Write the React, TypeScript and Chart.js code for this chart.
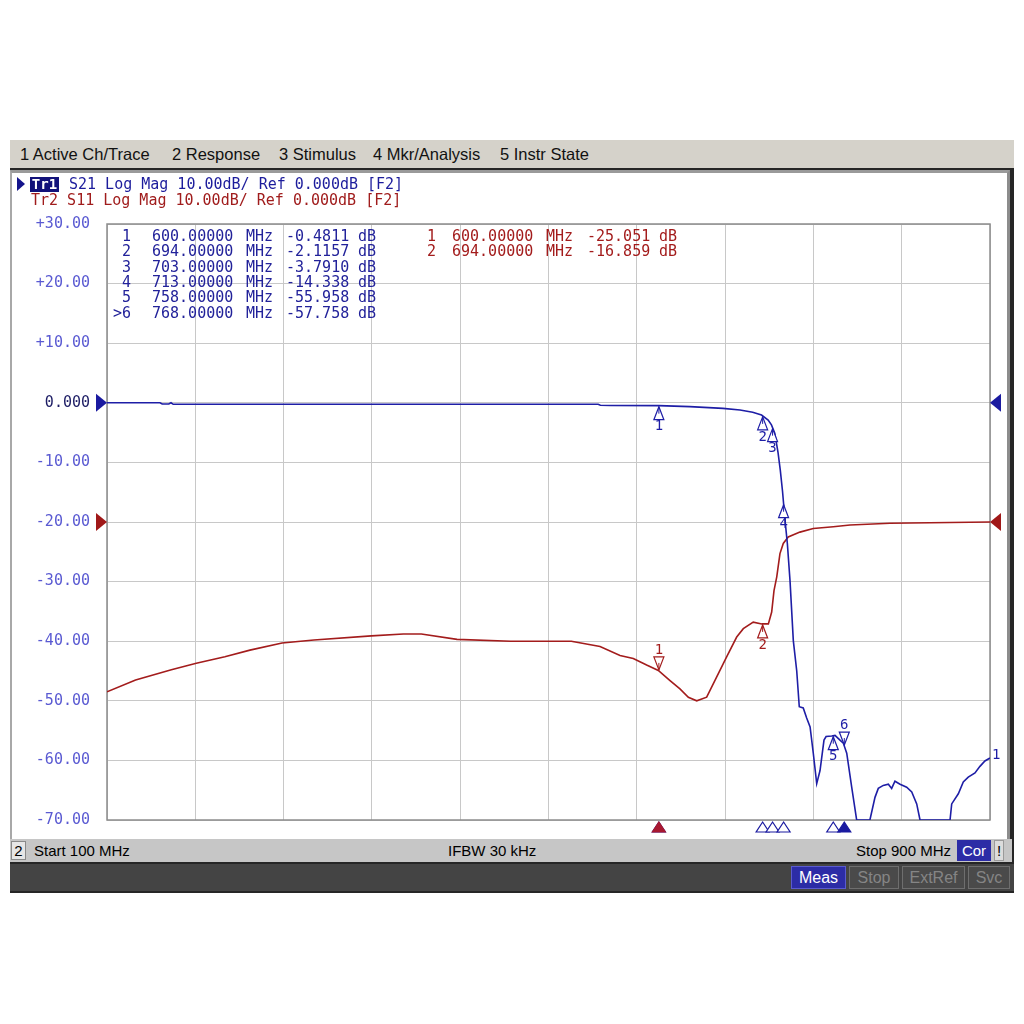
import React, { useEffect, useRef } from "react";
import { Chart, registerables } from "chart.js";
Chart.register(...registerables);

// ---- axis setup ----
const START_MHZ = 100;
const STOP_MHZ = 900;
const FREQ_STEP = 80;
const DB_MAX = 30;
const DB_MIN = -70;
const DB_STEP = 10;

// ---- Tr1 : S21 (blue) ----
const s21Freq = [100, 148, 150, 156, 158, 160, 545, 547, 556, 600, 628, 658, 673.5, 685, 693, 699, 702, 705, 708, 710, 712, 714.3, 716.4, 718.8, 721.8, 724.9, 727.2, 730.8, 733.9, 737, 739.9, 743, 746, 749.6, 751.5, 756.6, 759.6, 764.1, 767.1, 770.2, 774.7, 779.2, 791.2, 795.8, 798.8, 803.3, 807.9, 810.9, 813.9, 818.5, 824.5, 829.1, 833.6, 836.6, 863.8, 865.3, 867.4, 871.3, 875.8, 880.3, 886.4, 890.9, 895.4, 900];
const s21Db = [0, 0, -0.2, -0.2, 0, -0.25, -0.25, -0.42, -0.45, -0.48, -0.65, -0.93, -1.2, -1.6, -2.05, -2.9, -3.7, -5.1, -8.4, -11.3, -14.8, -19.7, -23.6, -29.8, -39.9, -45, -51, -51.2, -52.9, -54.4, -58.8, -63.9, -61.7, -56.6, -56, -55.9, -55.8, -56.6, -57.1, -58.8, -64.5, -70, -70, -66.2, -64.7, -64.2, -64, -64.7, -63.5, -64, -64.5, -65.3, -67.3, -70, -70, -67.3, -66.7, -65.6, -63.6, -62.8, -62.1, -61, -60.1, -59.6];

// ---- Tr2 : S11 (red) ----
const s11Freq = [100, 125.9, 158.3, 180.9, 206.8, 229.5, 258.6, 287.5, 339.5, 368.5, 384.8, 417.1, 465.7, 520.7, 546.7, 564.8, 576.8, 588.9, 599.5, 610.1, 619.1, 626.7, 634.3, 643.3, 652.4, 661.5, 670.5, 676.5, 685.5, 693.2, 699.2, 702.2, 704.3, 706.8, 709.7, 712.7, 717.2, 727.8, 739.9, 758, 773.2, 809.4, 900];
const s11Db = [-48.5, -46.5, -44.8, -43.7, -42.6, -41.5, -40.3, -39.8, -39.1, -38.8, -38.8, -39.7, -40, -40, -40.9, -42.4, -42.9, -44, -44.9, -46.6, -48, -49.4, -50, -49.4, -46, -42.6, -39.3, -37.9, -36.8, -37.1, -37.1, -35.1, -31.5, -29.2, -25.3, -23.6, -22.5, -21.7, -21.1, -20.8, -20.5, -20.2, -20.0];

// ---- markers ----
const s21MarkerNames = ["1", "2", "3", "4", "5", ">6"];
const s21MarkerFreq = [600, 694, 703, 713, 758, 768];
const s21MarkerDb = [-0.4811, -2.1157, -3.791, -14.338, -55.958, -57.758];
const s21MarkerAbove = [false, false, false, false, false, true];
const s21ActiveMarker = 5;

const s11MarkerNames = ["1", "2"];
const s11MarkerFreq = [600, 694];
const s11MarkerDb = [-25.051, -16.859];
const s11MarkerAbove = [true, false];
const s11ActiveMarker = 0;

// reference level arrows (Tr1, Tr2)
const refLevels = [0, -20];

const BLUE = "#1e1ea6";
const RED = "#a31c1c";
const MONO = '"DejaVu Sans Mono", monospace';

function interp(fs: number[], vs: number[], f: number) {
  for (let i = 0; i < fs.length - 1; i++) {
    if (f >= fs[i] && f <= fs[i + 1]) {
      const t = (f - fs[i]) / (fs[i + 1] - fs[i]);
      return vs[i] + t * (vs[i + 1] - vs[i]);
    }
  }
  return vs[vs.length - 1];
}

function fmtTick(v: number) {
  if (v === 0) return "0.000";
  return (v > 0 ? "+" : "") + v.toFixed(2);
}
function fmtDb(v: number) {
  return Math.abs(v) < 10 ? v.toFixed(4) : v.toFixed(3);
}

function tri(ctx: CanvasRenderingContext2D, x: number, yApex: number, dir: number, hw: number, h: number, color: string, filled: boolean) {
  ctx.beginPath();
  ctx.moveTo(x, yApex);
  ctx.lineTo(x - hw, yApex + dir * h);
  ctx.lineTo(x + hw, yApex + dir * h);
  ctx.closePath();
  ctx.fillStyle = filled ? color : "#ffffff";
  ctx.fill();
  ctx.strokeStyle = color;
  ctx.lineWidth = 1.2;
  ctx.stroke();
}

function sideTri(ctx: CanvasRenderingContext2D, xApex: number, y: number, dir: number, color: string) {
  ctx.beginPath();
  ctx.moveTo(xApex, y);
  ctx.lineTo(xApex + dir * 11, y - 9);
  ctx.lineTo(xApex + dir * 11, y + 9);
  ctx.closePath();
  ctx.fillStyle = color;
  ctx.fill();
}

const overlayPlugin = {
  id: "vnaOverlay",
  beforeDatasetsDraw(chart: any) {
    const { ctx, chartArea: a } = chart;
    ctx.save();
    ctx.strokeStyle = "#8c8c8c";
    ctx.lineWidth = 1.5;
    ctx.strokeRect(a.left, a.top, a.right - a.left, a.bottom - a.top);
    ctx.restore();
  },
  afterDraw(chart: any) {
    const { ctx, chartArea: a } = chart;
    const xs = chart.scales.x;
    const ys = chart.scales.y;
    ctx.save();

    // marker readouts
    ctx.font = "15px " + MONO;
    ctx.textBaseline = "middle";
    const row0 = 237;
    const rowH = 15.4;
    s21MarkerNames.forEach((n, i) => {
      const y = row0 + i * rowH;
      ctx.fillStyle = "#22229a";
      ctx.textAlign = "right";
      ctx.fillText(n, 131, y);
      ctx.textAlign = "left";
      ctx.fillText(s21MarkerFreq[i].toFixed(5), 152, y);
      ctx.fillText("MHz", 246, y);
      ctx.fillText(fmtDb(s21MarkerDb[i]), 286, y);
      ctx.fillText("dB", 358, y);
    });
    s11MarkerNames.forEach((n, i) => {
      const y = row0 + i * rowH;
      ctx.fillStyle = RED;
      ctx.textAlign = "right";
      ctx.fillText(n, 436, y);
      ctx.textAlign = "left";
      ctx.fillText(s11MarkerFreq[i].toFixed(5), 452, y);
      ctx.fillText("MHz", 546, y);
      ctx.fillText(fmtDb(s11MarkerDb[i]), 587, y);
      ctx.fillText("dB", 659, y);
    });

    // reference level arrows
    sideTri(ctx, a.left, ys.getPixelForValue(refLevels[0]), -1, "#1a1aa0");
    sideTri(ctx, a.left, ys.getPixelForValue(refLevels[1]), -1, "#a01818");
    sideTri(ctx, a.right, ys.getPixelForValue(refLevels[0]), 1, "#1a1aa0");
    sideTri(ctx, a.right, ys.getPixelForValue(refLevels[1]), 1, "#a01818");

    // markers on traces
    const drawTraceMarkers = (names: string[], freqs: number[], above: boolean[], fs: number[], vs: number[], color: string) => {
      ctx.font = "14px " + MONO;
      ctx.textAlign = "center";
      names.forEach((_, i) => {
        const x = xs.getPixelForValue(freqs[i]);
        const y = ys.getPixelForValue(interp(fs, vs, freqs[i]));
        const dir = above[i] ? -1 : 1;
        tri(ctx, x, y + dir * 1, dir, 5, 13, color, false);
        ctx.beginPath();
        ctx.moveTo(x, y + dir * 1);
        ctx.lineTo(x, y + dir * 8);
        ctx.strokeStyle = color;
        ctx.lineWidth = 1;
        ctx.stroke();
        ctx.fillStyle = color;
        ctx.fillText(String(i + 1), x, y + dir * 21);
      });
    };
    drawTraceMarkers(s11MarkerNames, s11MarkerFreq, s11MarkerAbove, s11Freq, s11Db, RED);
    drawTraceMarkers(s21MarkerNames, s21MarkerFreq, s21MarkerAbove, s21Freq, s21Db, BLUE);

    // markers along the frequency axis
    s21MarkerFreq.forEach((f, i) => {
      tri(ctx, xs.getPixelForValue(f), a.bottom + 2, 1, 6.5, 10, "#1a1aa0", i === s21ActiveMarker);
    });
    tri(ctx, xs.getPixelForValue(s11MarkerFreq[s11ActiveMarker]), a.bottom + 2, 1, 6.5, 10, "#a81830", true);

    // trace number at end
    ctx.font = "14px " + MONO;
    ctx.fillStyle = BLUE;
    ctx.textAlign = "left";
    ctx.fillText("1", a.right + 2, ys.getPixelForValue(s21Db[s21Db.length - 1]) - 3);

    ctx.restore();
  },
};

function VnaChart() {
  const ref = useRef<HTMLCanvasElement | null>(null);
  useEffect(() => {
    if (!ref.current) return;
    const chart = new Chart(ref.current, {
      type: "line",
      data: {
        datasets: [
          {
            label: "Tr1 S21",
            data: s21Freq.map((f, i) => ({ x: f, y: s21Db[i] })),
            borderColor: BLUE,
            borderWidth: 1.6,
            pointRadius: 0,
            tension: 0,
          },
          {
            label: "Tr2 S11",
            data: s11Freq.map((f, i) => ({ x: f, y: s11Db[i] })),
            borderColor: RED,
            borderWidth: 1.6,
            pointRadius: 0,
            tension: 0,
          },
        ],
      },
      options: {
        responsive: false,
        maintainAspectRatio: false,
        animation: false,
        devicePixelRatio: 1,
        layout: { padding: { left: 0, top: 224, right: 34, bottom: 204 } },
        plugins: { legend: { display: false }, tooltip: { enabled: false } },
        scales: {
          x: {
            type: "linear",
            min: START_MHZ,
            max: STOP_MHZ,
            ticks: { display: false, stepSize: FREQ_STEP },
            grid: { color: "#c8c8c8", drawTicks: false, lineWidth: 1 },
            border: { display: false },
            afterFit: (s: any) => {
              s.height = 0;
            },
          },
          y: {
            min: DB_MIN,
            max: DB_MAX,
            ticks: {
              stepSize: DB_STEP,
              padding: 17,
              font: { family: "DejaVu Sans Mono", size: 15 },
              color: (c: any) => (c.tick && c.tick.value === 0 ? "#1c1c64" : "#5a5ad2"),
              callback: (v: any) => fmtTick(Number(v)),
            },
            grid: { color: "#c8c8c8", drawTicks: false, lineWidth: 1 },
            border: { display: false },
            afterFit: (s: any) => {
              s.width = 107;
            },
          },
        },
      },
      plugins: [overlayPlugin],
    } as any);
    return () => chart.destroy();
  }, []);
  return (
    <canvas
      ref={ref}
      width={1024}
      height={1024}
      style={{ position: "absolute", left: 0, top: 0, width: 1024, height: 1024, zIndex: 5 }}
    />
  );
}

const abs = (s: React.CSSProperties): React.CSSProperties => ({ position: "absolute", ...s });

export default function App() {
  const ui = '"Liberation Sans", Arial, sans-serif';
  const menuItems: [string, number][] = [
    ["1 Active Ch/Trace", 20],
    ["2 Response", 172],
    ["3 Stimulus", 279],
    ["4 Mkr/Analysis", 373],
    ["5 Instr State", 500],
  ];
  const btn = (label: string, left: number, width: number, active: boolean) => (
    <div
      key={label}
      style={abs({
        left,
        top: 866,
        width,
        height: 23,
        boxSizing: "border-box",
        background: active ? "#2c2ca6" : "#4a4a4a",
        border: active ? "1px solid #5a5ad0" : "1px solid #6e6e6e",
        color: active ? "#ffffff" : "#858585",
        font: "16px " + ui,
        lineHeight: "21px",
        textAlign: "center",
      })}
    >
      {label}
    </div>
  );
  return (
    <div style={{ position: "fixed", left: 0, top: 0, width: 1024, height: 1024, background: "#ffffff", overflow: "hidden" }}>
      {/* screen frame */}
      <div style={abs({ left: 10, top: 140, width: 1004, height: 753, background: "#262626" })} />
      {/* menu bar */}
      <div style={abs({ left: 10, top: 140, width: 1004, height: 28, background: "#d5d2ca" })}>
        {menuItems.map(([t, x]) => (
          <span key={t} style={abs({ left: x - 10, top: 5, font: "16.5px " + ui, color: "#111", whiteSpace: "nowrap" })}>
            {t}
          </span>
        ))}
      </div>
      {/* white panel */}
      <div
        style={abs({
          left: 10,
          top: 170,
          width: 1000,
          height: 669,
          boxSizing: "border-box",
          background: "#ffffff",
          borderLeft: "2px solid #a8a8a8",
          borderTop: "3px solid #9a9a9a",
          borderRight: "3px solid #8c8c8c",
        })}
      />
      {/* trace headers */}
      <div style={abs({ left: 17, top: 177, width: 0, height: 0, borderLeft: "8px solid #14148c", borderTop: "7px solid transparent", borderBottom: "7px solid transparent", zIndex: 6 })} />
      <div style={abs({ left: 30, top: 177, width: 29, height: 15, background: "#12127a", color: "#fff", font: "bold 14px " + MONO, lineHeight: "15px", textAlign: "center", zIndex: 6 })}>
        Tr1
      </div>
      <div style={abs({ left: 69, top: 176, font: "15px " + MONO, lineHeight: "16px", color: "#1c1c9c", whiteSpace: "pre", zIndex: 6 })}>
        S21 Log Mag 10.00dB/ Ref 0.000dB [F2]
      </div>
      <div style={abs({ left: 31, top: 192, font: "15px " + MONO, lineHeight: "16px", color: "#a01c1c", whiteSpace: "pre", zIndex: 6 })}>
        Tr2 S11 Log Mag 10.00dB/ Ref 0.000dB [F2]
      </div>
      {/* status bar */}
      <div style={abs({ left: 10, top: 839, width: 1002, height: 23, background: "#c6c6c6", font: "15px " + ui, color: "#000" })}>
        <div style={abs({ left: 1, top: 2, width: 15, height: 19, boxSizing: "border-box", background: "#e6e6e6", border: "1px solid #8a8a8a", textAlign: "center", lineHeight: "17px" })}>2</div>
        <span style={abs({ left: 24, top: 3, whiteSpace: "nowrap" })}>Start 100 MHz</span>
        <span style={abs({ left: 438, top: 3, whiteSpace: "nowrap" })}>IFBW 30 kHz</span>
        <span style={abs({ left: 846, top: 3, whiteSpace: "nowrap" })}>Stop 900 MHz</span>
        <div style={abs({ left: 947, top: 1, width: 34, height: 21, background: "#2c2ca6", color: "#fff", textAlign: "center", lineHeight: "21px" })}>Cor</div>
        <div style={abs({ left: 984, top: 1, width: 10, height: 21, boxSizing: "border-box", background: "#dcdcdc", border: "1px solid #9a9a9a", textAlign: "center", lineHeight: "19px" })}>!</div>
      </div>
      {/* bottom soft-key bar */}
      <div style={abs({ left: 10, top: 864, width: 1004, height: 27, background: "#444444" })} />
      {btn("Meas", 791, 55, true)}
      {btn("Stop", 849, 50, false)}
      {btn("ExtRef", 902, 63, false)}
      {btn("Svc", 968, 42, false)}
      <VnaChart />
    </div>
  );
}
